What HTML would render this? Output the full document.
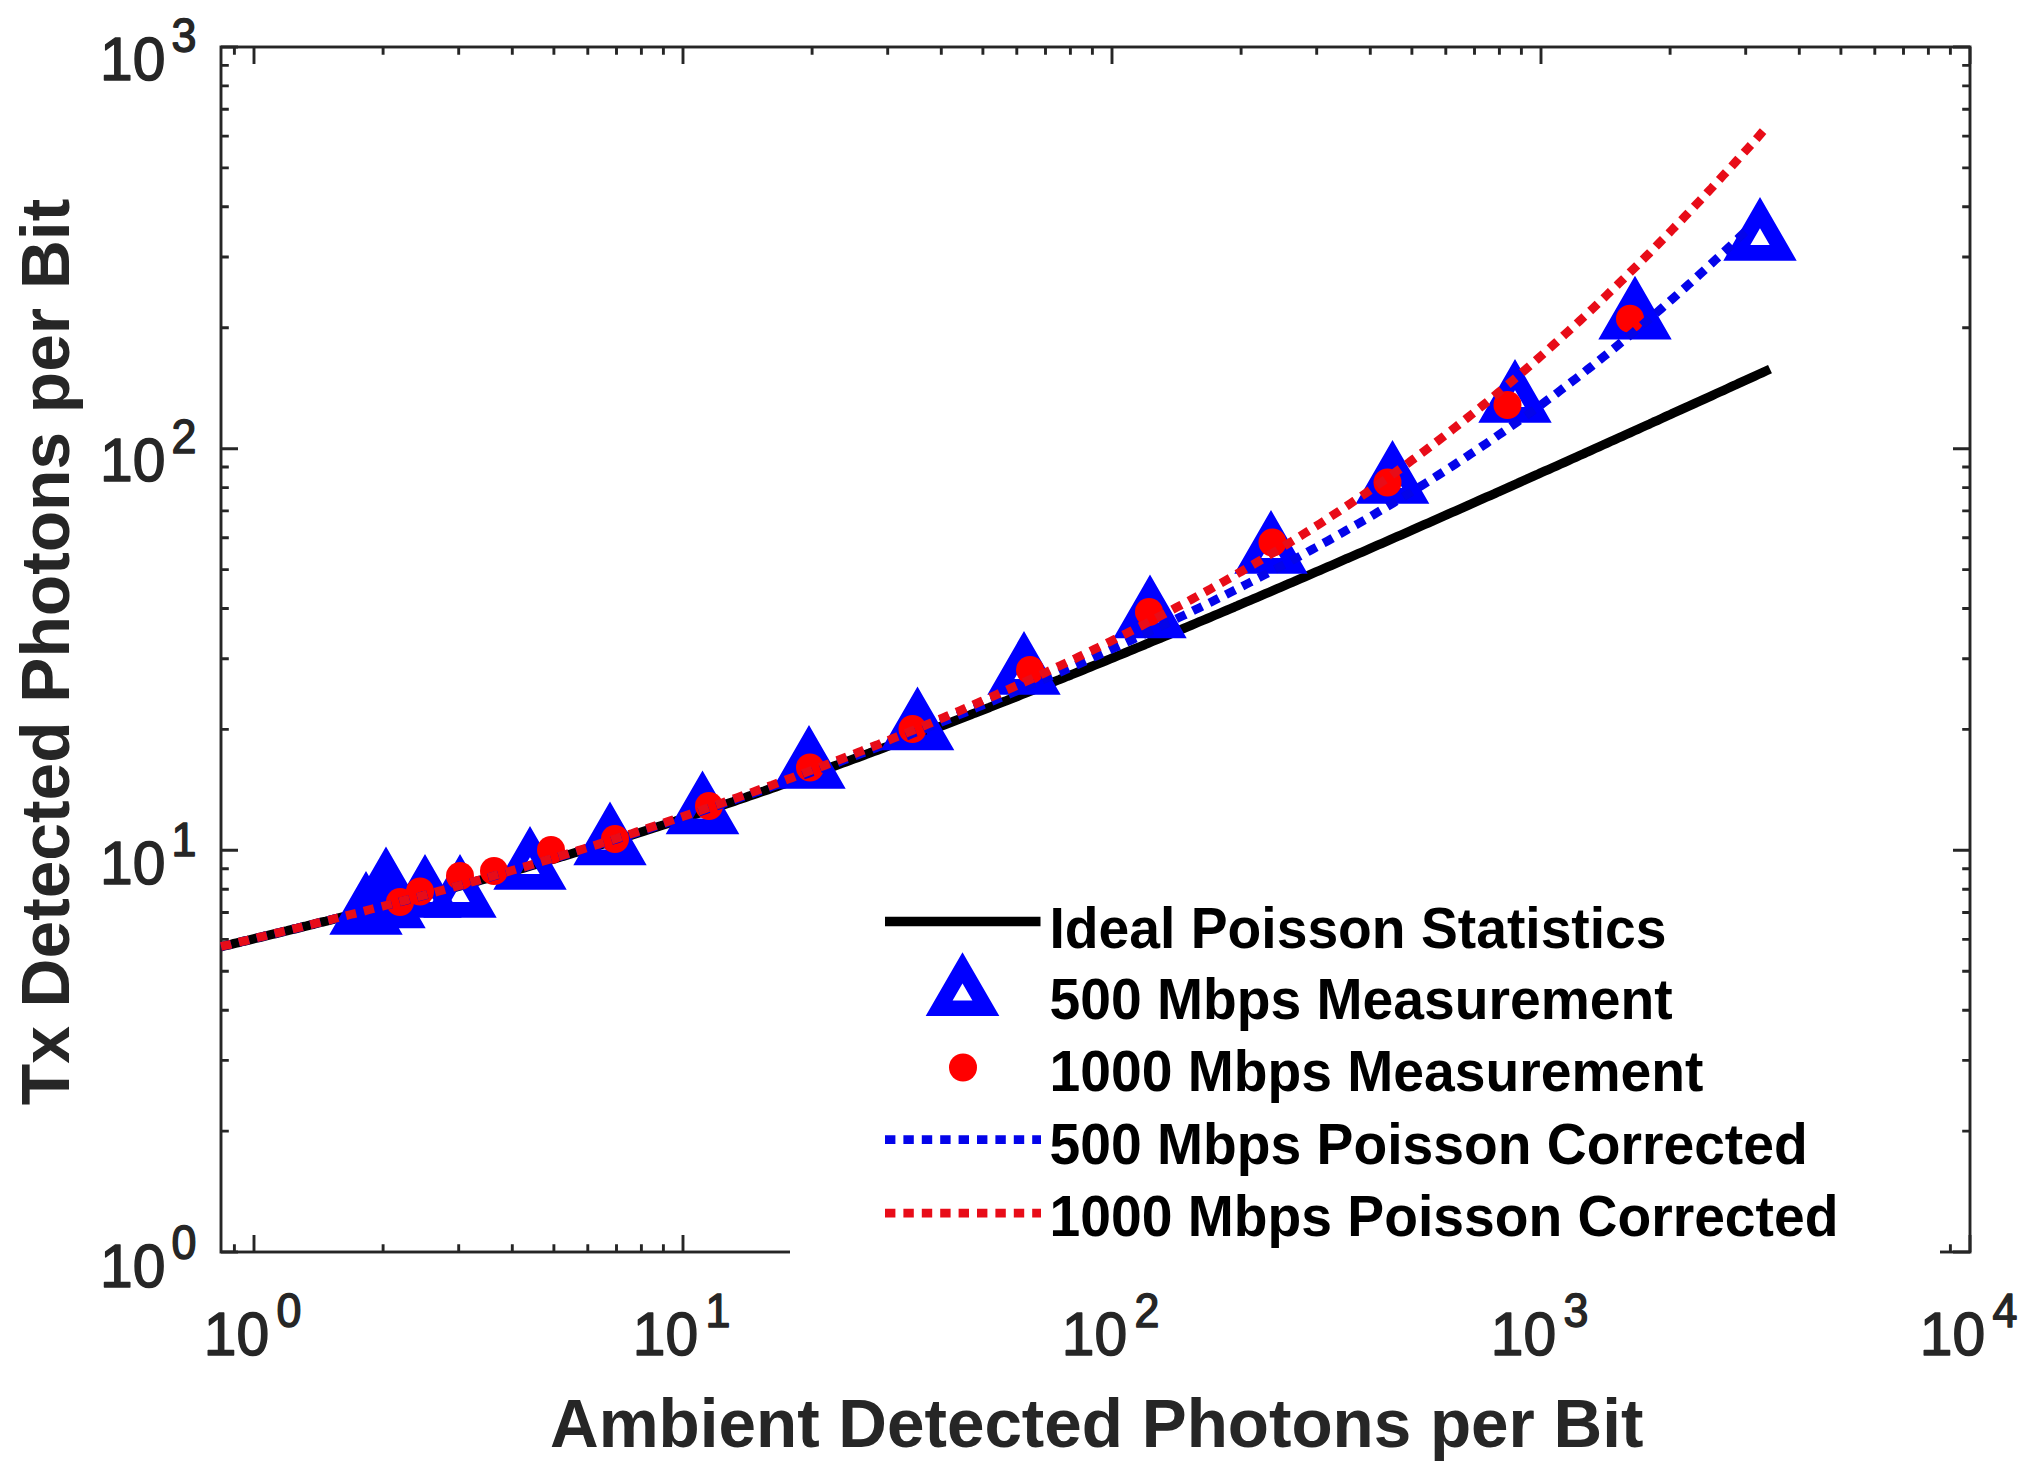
<!DOCTYPE html>
<html lang="en"><head><meta charset="utf-8"><title>Tx Detected Photons per Bit vs Ambient Detected Photons per Bit</title>
<style>html,body{margin:0;padding:0;background:#fff}svg{display:block}text{font-family:"Liberation Sans",sans-serif}</style></head><body>
<svg width="2033" height="1473" viewBox="0 0 2033 1473">
<rect width="2033" height="1473" fill="#fff"/>
<g stroke="#262626" stroke-width="2.9" fill="none" stroke-linecap="butt">
<path d="M234.4,1252.0 v-7.8 M234.4,47.0 v7.8 M254.0,1252.0 v-17.0 M254.0,47.0 v17.0 M383.1,1252.0 v-7.8 M383.1,47.0 v7.8 M458.7,1252.0 v-7.8 M458.7,47.0 v7.8 M512.3,1252.0 v-7.8 M512.3,47.0 v7.8 M553.9,1252.0 v-7.8 M553.9,47.0 v7.8 M587.8,1252.0 v-7.8 M587.8,47.0 v7.8 M616.5,1252.0 v-7.8 M616.5,47.0 v7.8 M641.4,1252.0 v-7.8 M641.4,47.0 v7.8 M663.4,1252.0 v-7.8 M663.4,47.0 v7.8 M683.0,1252.0 v-17.0 M683.0,47.0 v17.0 M812.1,1252.0 v-7.8 M812.1,47.0 v7.8 M887.7,1252.0 v-7.8 M887.7,47.0 v7.8 M941.3,1252.0 v-7.8 M941.3,47.0 v7.8 M982.9,1252.0 v-7.8 M982.9,47.0 v7.8 M1016.8,1252.0 v-7.8 M1016.8,47.0 v7.8 M1045.5,1252.0 v-7.8 M1045.5,47.0 v7.8 M1070.4,1252.0 v-7.8 M1070.4,47.0 v7.8 M1092.4,1252.0 v-7.8 M1092.4,47.0 v7.8 M1112.0,1252.0 v-17.0 M1112.0,47.0 v17.0 M1241.1,1252.0 v-7.8 M1241.1,47.0 v7.8 M1316.7,1252.0 v-7.8 M1316.7,47.0 v7.8 M1370.3,1252.0 v-7.8 M1370.3,47.0 v7.8 M1411.9,1252.0 v-7.8 M1411.9,47.0 v7.8 M1445.8,1252.0 v-7.8 M1445.8,47.0 v7.8 M1474.5,1252.0 v-7.8 M1474.5,47.0 v7.8 M1499.4,1252.0 v-7.8 M1499.4,47.0 v7.8 M1521.4,1252.0 v-7.8 M1521.4,47.0 v7.8 M1541.0,1252.0 v-17.0 M1541.0,47.0 v17.0 M1670.1,1252.0 v-7.8 M1670.1,47.0 v7.8 M1745.7,1252.0 v-7.8 M1745.7,47.0 v7.8 M1799.3,1252.0 v-7.8 M1799.3,47.0 v7.8 M1840.9,1252.0 v-7.8 M1840.9,47.0 v7.8 M1874.8,1252.0 v-7.8 M1874.8,47.0 v7.8 M1903.5,1252.0 v-7.8 M1903.5,47.0 v7.8 M1928.4,1252.0 v-7.8 M1928.4,47.0 v7.8 M1950.4,1252.0 v-7.8 M1950.4,47.0 v7.8 M1970.0,1252.0 v-17.0 M1970.0,47.0 v17.0 M221.0,1252.0 h17.0 M1970.0,1252.0 h-17.0 M221.0,1131.1 h7.8 M1970.0,1131.1 h-7.8 M221.0,1060.4 h7.8 M1970.0,1060.4 h-7.8 M221.0,1010.2 h7.8 M1970.0,1010.2 h-7.8 M221.0,971.2 h7.8 M1970.0,971.2 h-7.8 M221.0,939.4 h7.8 M1970.0,939.4 h-7.8 M221.0,912.5 h7.8 M1970.0,912.5 h-7.8 M221.0,889.3 h7.8 M1970.0,889.3 h-7.8 M221.0,868.7 h7.8 M1970.0,868.7 h-7.8 M221.0,850.3 h17.0 M1970.0,850.3 h-17.0 M221.0,729.4 h7.8 M1970.0,729.4 h-7.8 M221.0,658.7 h7.8 M1970.0,658.7 h-7.8 M221.0,608.5 h7.8 M1970.0,608.5 h-7.8 M221.0,569.6 h7.8 M1970.0,569.6 h-7.8 M221.0,537.8 h7.8 M1970.0,537.8 h-7.8 M221.0,510.9 h7.8 M1970.0,510.9 h-7.8 M221.0,487.6 h7.8 M1970.0,487.6 h-7.8 M221.0,467.0 h7.8 M1970.0,467.0 h-7.8 M221.0,448.7 h17.0 M1970.0,448.7 h-17.0 M221.0,327.7 h7.8 M1970.0,327.7 h-7.8 M221.0,257.0 h7.8 M1970.0,257.0 h-7.8 M221.0,206.8 h7.8 M1970.0,206.8 h-7.8 M221.0,167.9 h7.8 M1970.0,167.9 h-7.8 M221.0,136.1 h7.8 M1970.0,136.1 h-7.8 M221.0,109.2 h7.8 M1970.0,109.2 h-7.8 M221.0,85.9 h7.8 M1970.0,85.9 h-7.8 M221.0,65.4 h7.8 M1970.0,65.4 h-7.8 M221.0,47.0 h17.0 M1970.0,47.0 h-17.0"/>
<rect x="221.0" y="47.0" width="1749.0" height="1205.0"/>
</g>
<path d="M221.0,946.7 L224.9,945.8 L228.8,944.9 L232.6,943.9 L236.5,943.0 L240.4,942.1 L244.3,941.1 L248.2,940.2 L252.1,939.2 L255.9,938.3 L259.8,937.4 L263.7,936.4 L267.6,935.5 L271.5,934.5 L275.4,933.6 L279.2,932.7 L283.1,931.7 L287.0,930.8 L290.9,929.8 L294.8,928.9 L298.6,927.9 L302.5,926.9 L306.4,926.0 L310.3,925.0 L314.2,924.1 L318.1,923.1 L321.9,922.1 L325.8,921.2 L329.7,920.2 L333.6,919.2 L337.5,918.3 L341.3,917.3 L345.2,916.3 L349.1,915.3 L353.0,914.3 L356.9,913.3 L360.8,912.3 L364.6,911.4 L368.5,910.4 L372.4,909.4 L376.3,908.4 L380.2,907.4 L384.1,906.3 L387.9,905.3 L391.8,904.3 L395.7,903.3 L399.6,902.3 L403.5,901.3 L407.3,900.2 L411.2,899.2 L415.1,898.2 L419.0,897.1 L422.9,896.1 L426.8,895.1 L430.6,894.0 L434.5,893.0 L438.4,891.9 L442.3,890.9 L446.2,889.8 L450.1,888.7 L453.9,887.7 L457.8,886.6 L461.7,885.5 L465.6,884.5 L469.5,883.4 L473.3,882.3 L477.2,881.2 L481.1,880.1 L485.0,879.0 L488.9,877.9 L492.8,876.8 L496.6,875.7 L500.5,874.6 L504.4,873.5 L508.3,872.4 L512.2,871.3 L516.0,870.2 L519.9,869.0 L523.8,867.9 L527.7,866.8 L531.6,865.6 L535.5,864.5 L539.3,863.4 L543.2,862.2 L547.1,861.1 L551.0,859.9 L554.9,858.7 L558.8,857.6 L562.6,856.4 L566.5,855.3 L570.4,854.1 L574.3,852.9 L578.2,851.7 L582.0,850.5 L585.9,849.4 L589.8,848.2 L593.7,847.0 L597.6,845.8 L601.5,844.6 L605.3,843.4 L609.2,842.2 L613.1,840.9 L617.0,839.7 L620.9,838.5 L624.7,837.3 L628.6,836.1 L632.5,834.8 L636.4,833.6 L640.3,832.4 L644.2,831.1 L648.0,829.9 L651.9,828.6 L655.8,827.4 L659.7,826.1 L663.6,824.9 L667.5,823.6 L671.3,822.3 L675.2,821.1 L679.1,819.8 L683.0,818.5 L686.9,817.2 L690.7,815.9 L694.6,814.6 L698.5,813.4 L702.4,812.1 L706.3,810.8 L710.2,809.5 L714.0,808.2 L717.9,806.8 L721.8,805.5 L725.7,804.2 L729.6,802.9 L733.5,801.6 L737.3,800.2 L741.2,798.9 L745.1,797.6 L749.0,796.2 L752.9,794.9 L756.7,793.6 L760.6,792.2 L764.5,790.9 L768.4,789.5 L772.3,788.2 L776.2,786.8 L780.0,785.4 L783.9,784.1 L787.8,782.7 L791.7,781.3 L795.6,779.9 L799.4,778.6 L803.3,777.2 L807.2,775.8 L811.1,774.4 L815.0,773.0 L818.9,771.6 L822.7,770.2 L826.6,768.8 L830.5,767.4 L834.4,766.0 L838.3,764.6 L842.2,763.2 L846.0,761.8 L849.9,760.3 L853.8,758.9 L857.7,757.5 L861.6,756.1 L865.4,754.6 L869.3,753.2 L873.2,751.7 L877.1,750.3 L881.0,748.9 L884.9,747.4 L888.7,746.0 L892.6,744.5 L896.5,743.1 L900.4,741.6 L904.3,740.1 L908.2,738.7 L912.0,737.2 L915.9,735.7 L919.8,734.3 L923.7,732.8 L927.6,731.3 L931.4,729.8 L935.3,728.3 L939.2,726.8 L943.1,725.4 L947.0,723.9 L950.9,722.4 L954.7,720.9 L958.6,719.4 L962.5,717.9 L966.4,716.4 L970.3,714.9 L974.1,713.3 L978.0,711.8 L981.9,710.3 L985.8,708.8 L989.7,707.3 L993.6,705.7 L997.4,704.2 L1001.3,702.7 L1005.2,701.2 L1009.1,699.6 L1013.0,698.1 L1016.9,696.6 L1020.7,695.0 L1024.6,693.5 L1028.5,691.9 L1032.4,690.4 L1036.3,688.8 L1040.1,687.3 L1044.0,685.7 L1047.9,684.2 L1051.8,682.6 L1055.7,681.0 L1059.6,679.5 L1063.4,677.9 L1067.3,676.3 L1071.2,674.8 L1075.1,673.2 L1079.0,671.6 L1082.8,670.1 L1086.7,668.5 L1090.6,666.9 L1094.5,665.3 L1098.4,663.7 L1102.3,662.1 L1106.1,660.6 L1110.0,659.0 L1113.9,657.4 L1117.8,655.8 L1121.7,654.2 L1125.6,652.6 L1129.4,651.0 L1133.3,649.4 L1137.2,647.8 L1141.1,646.2 L1145.0,644.6 L1148.8,642.9 L1152.7,641.3 L1156.6,639.7 L1160.5,638.1 L1164.4,636.5 L1168.3,634.9 L1172.1,633.2 L1176.0,631.6 L1179.9,630.0 L1183.8,628.4 L1187.7,626.7 L1191.6,625.1 L1195.4,623.5 L1199.3,621.8 L1203.2,620.2 L1207.1,618.6 L1211.0,616.9 L1214.8,615.3 L1218.7,613.7 L1222.6,612.0 L1226.5,610.4 L1230.4,608.7 L1234.3,607.1 L1238.1,605.4 L1242.0,603.8 L1245.9,602.1 L1249.8,600.5 L1253.7,598.8 L1257.5,597.2 L1261.4,595.5 L1265.3,593.8 L1269.2,592.2 L1273.1,590.5 L1277.0,588.8 L1280.8,587.2 L1284.7,585.5 L1288.6,583.8 L1292.5,582.2 L1296.4,580.5 L1300.3,578.8 L1304.1,577.2 L1308.0,575.5 L1311.9,573.8 L1315.8,572.1 L1319.7,570.4 L1323.5,568.8 L1327.4,567.1 L1331.3,565.4 L1335.2,563.7 L1339.1,562.0 L1343.0,560.3 L1346.8,558.6 L1350.7,557.0 L1354.6,555.3 L1358.5,553.6 L1362.4,551.9 L1366.3,550.2 L1370.1,548.5 L1374.0,546.8 L1377.9,545.1 L1381.8,543.4 L1385.7,541.7 L1389.5,540.0 L1393.4,538.3 L1397.3,536.6 L1401.2,534.9 L1405.1,533.2 L1409.0,531.5 L1412.8,529.8 L1416.7,528.0 L1420.6,526.3 L1424.5,524.6 L1428.4,522.9 L1432.2,521.2 L1436.1,519.5 L1440.0,517.8 L1443.9,516.1 L1447.8,514.3 L1451.7,512.6 L1455.5,510.9 L1459.4,509.2 L1463.3,507.5 L1467.2,505.7 L1471.1,504.0 L1475.0,502.3 L1478.8,500.6 L1482.7,498.8 L1486.6,497.1 L1490.5,495.4 L1494.4,493.7 L1498.2,491.9 L1502.1,490.2 L1506.0,488.5 L1509.9,486.7 L1513.8,485.0 L1517.7,483.3 L1521.5,481.5 L1525.4,479.8 L1529.3,478.1 L1533.2,476.3 L1537.1,474.6 L1540.9,472.8 L1544.8,471.1 L1548.7,469.4 L1552.6,467.6 L1556.5,465.9 L1560.4,464.1 L1564.2,462.4 L1568.1,460.7 L1572.0,458.9 L1575.9,457.2 L1579.8,455.4 L1583.7,453.7 L1587.5,451.9 L1591.4,450.2 L1595.3,448.4 L1599.2,446.7 L1603.1,444.9 L1606.9,443.2 L1610.8,441.4 L1614.7,439.7 L1618.6,437.9 L1622.5,436.2 L1626.4,434.4 L1630.2,432.7 L1634.1,430.9 L1638.0,429.2 L1641.9,427.4 L1645.8,425.6 L1649.7,423.9 L1653.5,422.1 L1657.4,420.4 L1661.3,418.6 L1665.2,416.8 L1669.1,415.1 L1672.9,413.3 L1676.8,411.6 L1680.7,409.8 L1684.6,408.0 L1688.5,406.3 L1692.4,404.5 L1696.2,402.7 L1700.1,401.0 L1704.0,399.2 L1707.9,397.5 L1711.8,395.7 L1715.6,393.9 L1719.5,392.1 L1723.4,390.4 L1727.3,388.6 L1731.2,386.8 L1735.1,385.1 L1738.9,383.3 L1742.8,381.5 L1746.7,379.8 L1750.6,378.0 L1754.5,376.2 L1758.4,374.4 L1762.2,372.7 L1766.1,370.9 L1770.0,369.1" fill="none" stroke="#000" stroke-width="9.3" stroke-linejoin="round"/>
<g fill="none" stroke="#0000ff" stroke-width="15.6" stroke-linejoin="miter" stroke-miterlimit="10">
<path d="M366.0,886.6 L389.2,926.9 L342.8,926.9 Z" fill="#0000ff"/>
<path d="M389.0,880.1 L412.2,920.4 L365.8,920.4 Z" fill="#0000ff"/>
<path d="M386.0,862.1 L409.2,902.4 L362.8,902.4 Z"/>
<path d="M425.0,869.6 L448.2,909.9 L401.8,909.9 Z"/>
<path d="M460.0,869.6 L483.2,909.9 L436.8,909.9 Z"/>
<path d="M530.0,841.6 L553.2,881.9 L506.8,881.9 Z"/>
<path d="M610.0,817.1 L633.2,857.4 L586.8,857.4 Z"/>
<path d="M702.5,786.1 L725.8,826.4 L679.2,826.4 Z"/>
<path d="M809.0,740.6 L832.2,780.9 L785.8,780.9 Z"/>
<path d="M917.5,702.1 L940.8,742.4 L894.2,742.4 Z"/>
<path d="M1024.0,646.6 L1047.2,686.9 L1000.8,686.9 Z"/>
<path d="M1150.0,590.1 L1173.2,630.4 L1126.8,630.4 Z"/>
<path d="M1271.0,525.6 L1294.2,565.9 L1247.8,565.9 Z"/>
<path d="M1392.5,455.6 L1415.8,495.9 L1369.2,495.9 Z"/>
<path d="M1515.0,374.6 L1538.2,414.9 L1491.8,414.9 Z"/>
<path d="M1635.0,291.4 L1658.2,331.7 L1611.8,331.7 Z"/>
<path d="M1760.0,212.6 L1783.2,252.9 L1736.8,252.9 Z"/>
</g>
<g fill="#ff0000">
<circle cx="400" cy="902" r="14.0"/>
<circle cx="420" cy="891.5" r="14.0"/>
<circle cx="460" cy="876" r="14.0"/>
<circle cx="494" cy="871" r="14.0"/>
<circle cx="551" cy="850" r="14.0"/>
<circle cx="615" cy="839" r="14.0"/>
<circle cx="709" cy="806" r="14.0"/>
<circle cx="810" cy="767.5" r="14.0"/>
<circle cx="912.5" cy="729" r="14.0"/>
<circle cx="1030" cy="670" r="14.0"/>
<circle cx="1149" cy="612" r="14.0"/>
<circle cx="1272.5" cy="542.5" r="14.0"/>
<circle cx="1387.5" cy="482.5" r="14.0"/>
<circle cx="1507.5" cy="405" r="14.0"/>
<circle cx="1630" cy="318.75" r="14.0"/>
</g>
<path d="M221.0,946.6 L224.9,945.7 L228.8,944.8 L232.6,943.8 L236.5,942.9 L240.4,941.9 L244.3,941.0 L248.2,940.1 L252.1,939.1 L255.9,938.2 L259.8,937.2 L263.7,936.3 L267.6,935.4 L271.5,934.4 L275.4,933.5 L279.2,932.5 L283.1,931.6 L287.0,930.6 L290.9,929.7 L294.8,928.7 L298.6,927.8 L302.5,926.8 L306.4,925.8 L310.3,924.9 L314.2,923.9 L318.1,922.9 L321.9,922.0 L325.8,921.0 L329.7,920.0 L333.6,919.0 L337.5,918.1 L341.3,917.1 L345.2,916.1 L349.1,915.1 L353.0,914.1 L356.9,913.1 L360.8,912.1 L364.6,911.1 L368.5,910.1 L372.4,909.1 L376.3,908.1 L380.2,907.1 L384.1,906.1 L387.9,905.1 L391.8,904.1 L395.7,903.1 L399.6,902.0 L403.5,901.0 L407.3,900.0 L411.2,898.9 L415.1,897.9 L419.0,896.9 L422.9,895.8 L426.8,894.8 L430.6,893.7 L434.5,892.7 L438.4,891.6 L442.3,890.5 L446.2,889.5 L450.1,888.4 L453.9,887.3 L457.8,886.3 L461.7,885.2 L465.6,884.1 L469.5,883.0 L473.3,881.9 L477.2,880.8 L481.1,879.7 L485.0,878.6 L488.9,877.5 L492.8,876.4 L496.6,875.3 L500.5,874.2 L504.4,873.1 L508.3,872.0 L512.2,870.8 L516.0,869.7 L519.9,868.6 L523.8,867.4 L527.7,866.3 L531.6,865.1 L535.5,864.0 L539.3,862.8 L543.2,861.7 L547.1,860.5 L551.0,859.4 L554.9,858.2 L558.8,857.0 L562.6,855.8 L566.5,854.7 L570.4,853.5 L574.3,852.3 L578.2,851.1 L582.0,849.9 L585.9,848.7 L589.8,847.5 L593.7,846.3 L597.6,845.1 L601.5,843.9 L605.3,842.7 L609.2,841.4 L613.1,840.2 L617.0,839.0 L620.9,837.7 L624.7,836.5 L628.6,835.3 L632.5,834.0 L636.4,832.8 L640.3,831.5 L644.2,830.2 L648.0,829.0 L651.9,827.7 L655.8,826.4 L659.7,825.2 L663.6,823.9 L667.5,822.6 L671.3,821.3 L675.2,820.0 L679.1,818.7 L683.0,817.4 L686.9,816.1 L690.7,814.8 L694.6,813.5 L698.5,812.2 L702.4,810.9 L706.3,809.6 L710.2,808.2 L714.0,806.9 L717.9,805.6 L721.8,804.2 L725.7,802.9 L729.6,801.6 L733.5,800.2 L737.3,798.9 L741.2,797.5 L745.1,796.1 L749.0,794.8 L752.9,793.4 L756.7,792.0 L760.6,790.7 L764.5,789.3 L768.4,787.9 L772.3,786.5 L776.2,785.1 L780.0,783.7 L783.9,782.3 L787.8,780.9 L791.7,779.5 L795.6,778.1 L799.4,776.7 L803.3,775.2 L807.2,773.8 L811.1,772.4 L815.0,771.0 L818.9,769.5 L822.7,768.1 L826.6,766.6 L830.5,765.2 L834.4,763.7 L838.3,762.3 L842.2,760.8 L846.0,759.3 L849.9,757.9 L853.8,756.4 L857.7,754.9 L861.6,753.4 L865.4,752.0 L869.3,750.5 L873.2,749.0 L877.1,747.5 L881.0,746.0 L884.9,744.5 L888.7,743.0 L892.6,741.5 L896.5,739.9 L900.4,738.4 L904.3,736.9 L908.2,735.4 L912.0,733.8 L915.9,732.3 L919.8,730.8 L923.7,729.2 L927.6,727.7 L931.4,726.1 L935.3,724.6 L939.2,723.0 L943.1,721.4 L947.0,719.9 L950.9,718.3 L954.7,716.7 L958.6,715.1 L962.5,713.5 L966.4,711.9 L970.3,710.3 L974.1,708.7 L978.0,707.1 L981.9,705.5 L985.8,703.9 L989.7,702.3 L993.6,700.7 L997.4,699.1 L1001.3,697.4 L1005.2,695.8 L1009.1,694.2 L1013.0,692.5 L1016.9,690.9 L1020.7,689.2 L1024.6,687.6 L1028.5,685.9 L1032.4,684.2 L1036.3,682.6 L1040.1,680.9 L1044.0,679.2 L1047.9,677.5 L1051.8,675.8 L1055.7,674.1 L1059.6,672.4 L1063.4,670.7 L1067.3,669.0 L1071.2,667.3 L1075.1,665.6 L1079.0,663.9 L1082.8,662.2 L1086.7,660.4 L1090.6,658.7 L1094.5,656.9 L1098.4,655.2 L1102.3,653.4 L1106.1,651.7 L1110.0,649.9 L1113.9,648.1 L1117.8,646.4 L1121.7,644.6 L1125.6,642.8 L1129.4,641.0 L1133.3,639.2 L1137.2,637.4 L1141.1,635.6 L1145.0,633.8 L1148.8,632.0 L1152.7,630.2 L1156.6,628.3 L1160.5,626.5 L1164.4,624.7 L1168.3,622.8 L1172.1,621.0 L1176.0,619.1 L1179.9,617.2 L1183.8,615.4 L1187.7,613.5 L1191.6,611.6 L1195.4,609.7 L1199.3,607.8 L1203.2,605.9 L1207.1,604.0 L1211.0,602.1 L1214.8,600.2 L1218.7,598.2 L1222.6,596.3 L1226.5,594.3 L1230.4,592.4 L1234.3,590.4 L1238.1,588.5 L1242.0,586.5 L1245.9,584.5 L1249.8,582.5 L1253.7,580.5 L1257.5,578.5 L1261.4,576.5 L1265.3,574.5 L1269.2,572.5 L1273.1,570.4 L1277.0,568.4 L1280.8,566.3 L1284.7,564.3 L1288.6,562.2 L1292.5,560.1 L1296.4,558.0 L1300.3,556.0 L1304.1,553.9 L1308.0,551.7 L1311.9,549.6 L1315.8,547.5 L1319.7,545.4 L1323.5,543.2 L1327.4,541.1 L1331.3,538.9 L1335.2,536.7 L1339.1,534.5 L1343.0,532.3 L1346.8,530.1 L1350.7,527.9 L1354.6,525.7 L1358.5,523.5 L1362.4,521.2 L1366.3,519.0 L1370.1,516.7 L1374.0,514.4 L1377.9,512.1 L1381.8,509.8 L1385.7,507.5 L1389.5,505.2 L1393.4,502.9 L1397.3,500.5 L1401.2,498.2 L1405.1,495.8 L1409.0,493.5 L1412.8,491.1 L1416.7,488.7 L1420.6,486.3 L1424.5,483.8 L1428.4,481.4 L1432.2,478.9 L1436.1,476.5 L1440.0,474.0 L1443.9,471.5 L1447.8,469.0 L1451.7,466.5 L1455.5,464.0 L1459.4,461.4 L1463.3,458.9 L1467.2,456.3 L1471.1,453.7 L1475.0,451.2 L1478.8,448.6 L1482.7,445.9 L1486.6,443.3 L1490.5,440.6 L1494.4,438.0 L1498.2,435.3 L1502.1,432.6 L1506.0,429.9 L1509.9,427.2 L1513.8,424.5 L1517.7,421.7 L1521.5,418.9 L1525.4,416.2 L1529.3,413.4 L1533.2,410.5 L1537.1,407.7 L1540.9,404.9 L1544.8,402.0 L1548.7,399.1 L1552.6,396.3 L1556.5,393.4 L1560.4,390.4 L1564.2,387.5 L1568.1,384.5 L1572.0,381.6 L1575.9,378.6 L1579.8,375.6 L1583.7,372.6 L1587.5,369.5 L1591.4,366.5 L1595.3,363.4 L1599.2,360.3 L1603.1,357.2 L1606.9,354.1 L1610.8,351.0 L1614.7,347.8 L1618.6,344.6 L1622.5,341.4 L1626.4,338.2 L1630.2,335.0 L1634.1,331.8 L1638.0,328.5 L1641.9,325.2 L1645.8,321.9 L1649.7,318.6 L1653.5,315.3 L1657.4,312.0 L1661.3,308.6 L1665.2,305.2 L1669.1,301.8 L1672.9,298.4 L1676.8,295.0 L1680.7,291.5 L1684.6,288.1 L1688.5,284.6 L1692.4,281.1 L1696.2,277.6 L1700.1,274.0 L1704.0,270.5 L1707.9,266.9 L1711.8,263.3 L1715.6,259.7 L1719.5,256.1 L1723.4,252.4 L1727.3,248.8 L1731.2,245.1 L1735.1,241.4 L1738.9,237.7 L1742.8,234.0 L1746.7,230.2 L1750.6,226.4" fill="none" stroke="#0404ea" stroke-width="8.7" stroke-dasharray="10.4 8.0"/>
<path d="M221.0,946.5 L224.9,945.6 L228.8,944.7 L232.6,943.7 L236.5,942.8 L240.4,941.8 L244.3,940.9 L248.2,940.0 L252.1,939.0 L255.9,938.1 L259.8,937.1 L263.7,936.2 L267.6,935.2 L271.5,934.3 L275.4,933.3 L279.2,932.4 L283.1,931.4 L287.0,930.5 L290.9,929.5 L294.8,928.6 L298.6,927.6 L302.5,926.7 L306.4,925.7 L310.3,924.7 L314.2,923.8 L318.1,922.8 L321.9,921.8 L325.8,920.8 L329.7,919.9 L333.6,918.9 L337.5,917.9 L341.3,916.9 L345.2,915.9 L349.1,914.9 L353.0,913.9 L356.9,913.0 L360.8,912.0 L364.6,911.0 L368.5,909.9 L372.4,908.9 L376.3,907.9 L380.2,906.9 L384.1,905.9 L387.9,904.9 L391.8,903.9 L395.7,902.8 L399.6,901.8 L403.5,900.8 L407.3,899.7 L411.2,898.7 L415.1,897.7 L419.0,896.6 L422.9,895.6 L426.8,894.5 L430.6,893.5 L434.5,892.4 L438.4,891.3 L442.3,890.3 L446.2,889.2 L450.1,888.1 L453.9,887.0 L457.8,886.0 L461.7,884.9 L465.6,883.8 L469.5,882.7 L473.3,881.6 L477.2,880.5 L481.1,879.4 L485.0,878.3 L488.9,877.2 L492.8,876.1 L496.6,874.9 L500.5,873.8 L504.4,872.7 L508.3,871.6 L512.2,870.4 L516.0,869.3 L519.9,868.1 L523.8,867.0 L527.7,865.9 L531.6,864.7 L535.5,863.5 L539.3,862.4 L543.2,861.2 L547.1,860.0 L551.0,858.9 L554.9,857.7 L558.8,856.5 L562.6,855.3 L566.5,854.1 L570.4,852.9 L574.3,851.7 L578.2,850.5 L582.0,849.3 L585.9,848.1 L589.8,846.9 L593.7,845.7 L597.6,844.5 L601.5,843.2 L605.3,842.0 L609.2,840.8 L613.1,839.5 L617.0,838.3 L620.9,837.0 L624.7,835.8 L628.6,834.5 L632.5,833.3 L636.4,832.0 L640.3,830.7 L644.2,829.4 L648.0,828.2 L651.9,826.9 L655.8,825.6 L659.7,824.3 L663.6,823.0 L667.5,821.7 L671.3,820.4 L675.2,819.1 L679.1,817.8 L683.0,816.5 L686.9,815.1 L690.7,813.8 L694.6,812.5 L698.5,811.2 L702.4,809.8 L706.3,808.5 L710.2,807.1 L714.0,805.8 L717.9,804.4 L721.8,803.1 L725.7,801.7 L729.6,800.3 L733.5,798.9 L737.3,797.6 L741.2,796.2 L745.1,794.8 L749.0,793.4 L752.9,792.0 L756.7,790.6 L760.6,789.2 L764.5,787.8 L768.4,786.4 L772.3,785.0 L776.2,783.5 L780.0,782.1 L783.9,780.7 L787.8,779.2 L791.7,777.8 L795.6,776.3 L799.4,774.9 L803.3,773.4 L807.2,772.0 L811.1,770.5 L815.0,769.0 L818.9,767.6 L822.7,766.1 L826.6,764.6 L830.5,763.1 L834.4,761.6 L838.3,760.1 L842.2,758.6 L846.0,757.1 L849.9,755.6 L853.8,754.1 L857.7,752.5 L861.6,751.0 L865.4,749.5 L869.3,747.9 L873.2,746.4 L877.1,744.9 L881.0,743.3 L884.9,741.7 L888.7,740.2 L892.6,738.6 L896.5,737.0 L900.4,735.5 L904.3,733.9 L908.2,732.3 L912.0,730.7 L915.9,729.1 L919.8,727.5 L923.7,725.9 L927.6,724.3 L931.4,722.7 L935.3,721.0 L939.2,719.4 L943.1,717.8 L947.0,716.1 L950.9,714.5 L954.7,712.8 L958.6,711.2 L962.5,709.5 L966.4,707.8 L970.3,706.2 L974.1,704.5 L978.0,702.8 L981.9,701.1 L985.8,699.4 L989.7,697.7 L993.6,696.0 L997.4,694.3 L1001.3,692.5 L1005.2,690.8 L1009.1,689.1 L1013.0,687.3 L1016.9,685.6 L1020.7,683.8 L1024.6,682.1 L1028.5,680.3 L1032.4,678.5 L1036.3,676.7 L1040.1,675.0 L1044.0,673.2 L1047.9,671.4 L1051.8,669.6 L1055.7,667.7 L1059.6,665.9 L1063.4,664.1 L1067.3,662.3 L1071.2,660.4 L1075.1,658.6 L1079.0,656.7 L1082.8,654.9 L1086.7,653.0 L1090.6,651.1 L1094.5,649.2 L1098.4,647.3 L1102.3,645.4 L1106.1,643.5 L1110.0,641.6 L1113.9,639.7 L1117.8,637.7 L1121.7,635.8 L1125.6,633.8 L1129.4,631.9 L1133.3,629.9 L1137.2,627.9 L1141.1,626.0 L1145.0,624.0 L1148.8,622.0 L1152.7,620.0 L1156.6,617.9 L1160.5,615.9 L1164.4,613.9 L1168.3,611.8 L1172.1,609.8 L1176.0,607.7 L1179.9,605.6 L1183.8,603.6 L1187.7,601.5 L1191.6,599.4 L1195.4,597.3 L1199.3,595.1 L1203.2,593.0 L1207.1,590.9 L1211.0,588.7 L1214.8,586.5 L1218.7,584.4 L1222.6,582.2 L1226.5,580.0 L1230.4,577.8 L1234.3,575.6 L1238.1,573.3 L1242.0,571.1 L1245.9,568.8 L1249.8,566.6 L1253.7,564.3 L1257.5,562.0 L1261.4,559.7 L1265.3,557.4 L1269.2,555.1 L1273.1,552.8 L1277.0,550.4 L1280.8,548.1 L1284.7,545.7 L1288.6,543.3 L1292.5,540.9 L1296.4,538.5 L1300.3,536.1 L1304.1,533.6 L1308.0,531.2 L1311.9,528.7 L1315.8,526.3 L1319.7,523.8 L1323.5,521.3 L1327.4,518.7 L1331.3,516.2 L1335.2,513.7 L1339.1,511.1 L1343.0,508.5 L1346.8,506.0 L1350.7,503.4 L1354.6,500.7 L1358.5,498.1 L1362.4,495.5 L1366.3,492.8 L1370.1,490.1 L1374.0,487.4 L1377.9,484.7 L1381.8,482.0 L1385.7,479.3 L1389.5,476.5 L1393.4,473.7 L1397.3,470.9 L1401.2,468.1 L1405.1,465.3 L1409.0,462.5 L1412.8,459.6 L1416.7,456.8 L1420.6,453.9 L1424.5,451.0 L1428.4,448.1 L1432.2,445.2 L1436.1,442.2 L1440.0,439.2 L1443.9,436.3 L1447.8,433.3 L1451.7,430.2 L1455.5,427.2 L1459.4,424.1 L1463.3,421.1 L1467.2,418.0 L1471.1,414.9 L1475.0,411.8 L1478.8,408.6 L1482.7,405.5 L1486.6,402.3 L1490.5,399.1 L1494.4,395.9 L1498.2,392.7 L1502.1,389.4 L1506.0,386.2 L1509.9,382.9 L1513.8,379.6 L1517.7,376.3 L1521.5,372.9 L1525.4,369.6 L1529.3,366.2 L1533.2,362.8 L1537.1,359.4 L1540.9,356.0 L1544.8,352.5 L1548.7,349.1 L1552.6,345.6 L1556.5,342.1 L1560.4,338.6 L1564.2,335.0 L1568.1,331.5 L1572.0,327.9 L1575.9,324.3 L1579.8,320.7 L1583.7,317.1 L1587.5,313.5 L1591.4,309.8 L1595.3,306.1 L1599.2,302.4 L1603.1,298.7 L1606.9,295.0 L1610.8,291.2 L1614.7,287.5 L1618.6,283.7 L1622.5,279.9 L1626.4,276.1 L1630.2,272.2 L1634.1,268.4 L1638.0,264.5 L1641.9,260.6 L1645.8,256.7 L1649.7,252.8 L1653.5,248.9 L1657.4,244.9 L1661.3,240.9 L1665.2,237.0 L1669.1,233.0 L1672.9,228.9 L1676.8,224.9 L1680.7,220.9 L1684.6,216.8 L1688.5,212.7 L1692.4,208.6 L1696.2,204.5 L1700.1,200.4 L1704.0,196.2 L1707.9,192.0 L1711.8,187.9 L1715.6,183.7 L1719.5,179.5 L1723.4,175.2 L1727.3,171.0 L1731.2,166.8 L1735.1,162.5 L1738.9,158.2 L1742.8,153.9 L1746.7,149.6 L1750.6,145.3 L1754.5,141.0 L1758.4,136.6 L1762.2,132.2 L1766.1,127.9" fill="none" stroke="#e80c18" stroke-width="8.7" stroke-dasharray="10.4 8.0"/>
<rect x="790" y="888" width="1150" height="372" fill="#fff"/>
<path d="M885,921.5 H1040.5" stroke="#000" stroke-width="9.3" fill="none"/>
<path d="M962.5,967.9 L985.8,1008.2 L939.2,1008.2 Z" fill="none" stroke="#0000ff" stroke-width="15.6" stroke-miterlimit="10"/>
<circle cx="963" cy="1067.5" r="14.0" fill="#ff0000"/>
<path d="M885,1139.6 H1041" stroke="#0404ea" stroke-width="8.7" stroke-dasharray="10.4 8.0" fill="none"/>
<path d="M885,1213.1 H1041" stroke="#e80c18" stroke-width="8.7" stroke-dasharray="10.4 8.0" fill="none"/>
<g font-weight="bold" font-size="56.67" fill="#000">
<text transform="translate(1049.5,947.5) scale(0.975,1)">Ideal Poisson Statistics</text>
<text transform="translate(1049.5,1019.2) scale(0.975,1)">500 Mbps Measurement</text>
<text transform="translate(1049.5,1091.3) scale(0.975,1)">1000 Mbps Measurement</text>
<text transform="translate(1049.5,1163.5) scale(0.975,1)">500 Mbps Poisson Corrected</text>
<text transform="translate(1049.5,1235.5) scale(0.975,1)">1000 Mbps Poisson Corrected</text>
</g>
<g fill="#262626" stroke="#262626" stroke-width="1.5" stroke-linejoin="round">
<text transform="translate(203.7,1355.3) scale(0.95,1)" font-size="61.89">10</text><text transform="translate(276.5,1327) scale(0.94,1)" font-size="47.66">0</text>
<text transform="translate(632.7,1355.3) scale(0.95,1)" font-size="61.89">10</text><text transform="translate(705.5,1327) scale(0.94,1)" font-size="47.66">1</text>
<text transform="translate(1061.7,1355.3) scale(0.95,1)" font-size="61.89">10</text><text transform="translate(1134.5,1327) scale(0.94,1)" font-size="47.66">2</text>
<text transform="translate(1490.7,1355.3) scale(0.95,1)" font-size="61.89">10</text><text transform="translate(1563.5,1327) scale(0.94,1)" font-size="47.66">3</text>
<text transform="translate(1919.7,1355.3) scale(0.95,1)" font-size="61.89">10</text><text transform="translate(1992.5,1327) scale(0.94,1)" font-size="47.66">4</text>
<text transform="translate(165.5,1287.0) scale(0.95,1)" font-size="61.89" text-anchor="end">10</text><text transform="translate(171.5,1259.0) scale(0.94,1)" font-size="47.66">0</text>
<text transform="translate(165.5,884.0) scale(0.95,1)" font-size="61.89" text-anchor="end">10</text><text transform="translate(171.5,856.0) scale(0.94,1)" font-size="47.66">1</text>
<text transform="translate(165.5,481.2) scale(0.95,1)" font-size="61.89" text-anchor="end">10</text><text transform="translate(171.5,453.2) scale(0.94,1)" font-size="47.66">2</text>
<text transform="translate(165.5,80.0) scale(0.95,1)" font-size="61.89" text-anchor="end">10</text><text transform="translate(171.5,52.0) scale(0.94,1)" font-size="47.66">3</text>
</g>
<g fill="#262626">
<text transform="translate(1096.7,1447) scale(0.975,1)" font-size="69.13" font-weight="bold" text-anchor="middle">Ambient Detected Photons per Bit</text>
<text transform="translate(69,652) rotate(-90) scale(0.975,1)" font-size="69.44" font-weight="bold" text-anchor="middle">Tx Detected Photons per Bit</text>
</g>
</svg></body></html>
